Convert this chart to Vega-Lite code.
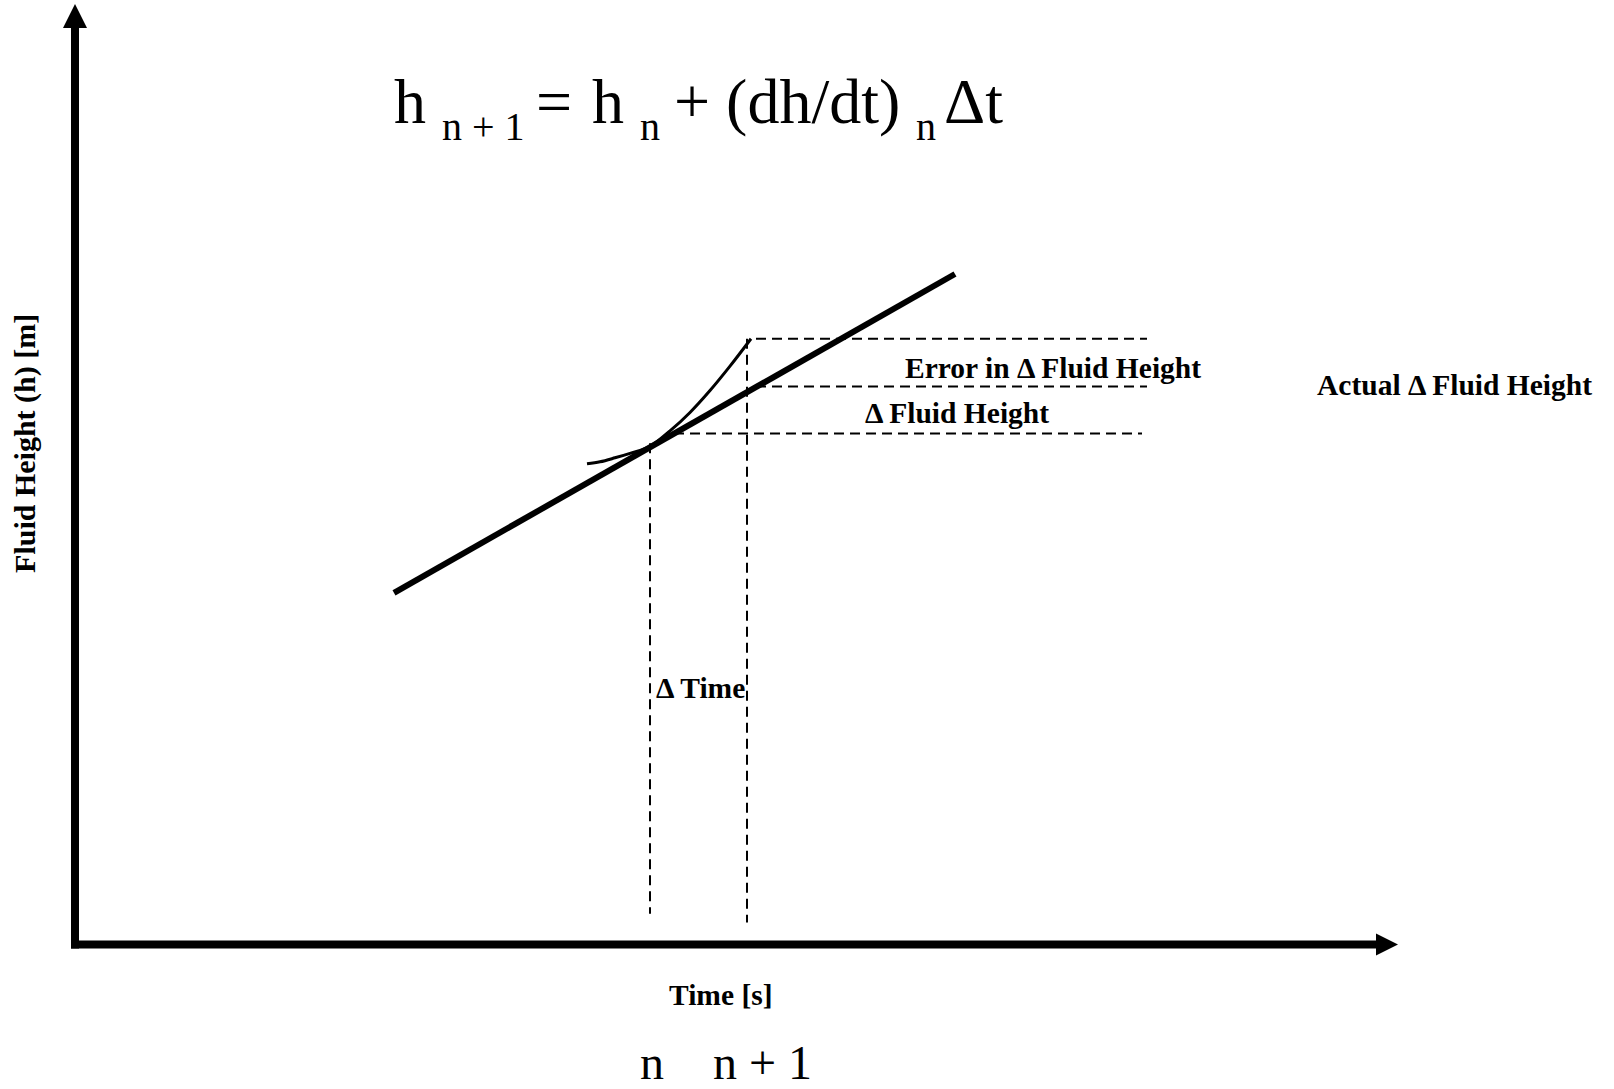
{
  "$schema": "https://vega.github.io/schema/vega-lite/v6.json",
  "width": 1614,
  "height": 1089,
  "autosize": {"type": "fit", "contains": "padding"},
  "padding": 0,
  "background": "white",
  "config": {"view": {"stroke": null}},
  "encoding": {
    "x": {"field": "x", "type": "quantitative", "scale": {"domain": [0, 1614], "nice": false, "zero": false}, "axis": null},
    "y": {"field": "y", "type": "quantitative", "scale": {"domain": [0, 1089], "nice": false, "zero": false}, "axis": null}
  },
  "layer": [
    {
      "data": {"values": [
        {"part": "y axis", "x": 75, "y": 137, "x2": 75, "y2": 1062},
        {"part": "x axis", "x": 71, "y": 141, "x2": 1377, "y2": 141}
      ]},
      "mark": {"type": "rule", "strokeWidth": 8, "color": "black", "strokeCap": "butt"},
      "encoding": {"x2": {"field": "x2"}, "y2": {"field": "y2"}}
    },
    {
      "data": {"values": [{"part": "y arrow", "x": 75, "y": 1073}]},
      "mark": {"type": "point", "shape": "M0,-1L1,1L-1,1Z", "filled": true, "color": "black", "opacity": 1, "size": 576, "strokeWidth": 0}
    },
    {
      "data": {"values": [{"part": "x arrow", "x": 1387, "y": 141}]},
      "mark": {"type": "point", "shape": "M1,0L-1,-1L-1,1Z", "filled": true, "color": "black", "opacity": 1, "size": 484, "strokeWidth": 0}
    },
    {
      "data": {"values": [
        {"x": 394, "y": 494},
        {"x": 955, "y": 814}
      ]},
      "mark": {"type": "line", "strokeWidth": 6, "color": "black", "strokeCap": "butt"}
    },
    {
      "data": {"values": [
        {"x": 587, "y": 623.5},
        {"x": 600, "y": 625.5},
        {"x": 615, "y": 629.5},
        {"x": 630, "y": 634},
        {"x": 650, "y": 641},
        {"x": 670, "y": 656.5},
        {"x": 690, "y": 675},
        {"x": 710, "y": 697},
        {"x": 730, "y": 721.5},
        {"x": 751, "y": 749}
      ]},
      "mark": {"type": "line", "strokeWidth": 3, "color": "black", "interpolate": "monotone"}
    },
    {
      "data": {"values": [
        {"x": 756, "y": 749, "x2": 1147, "y2": 749},
        {"x": 756, "y": 701, "x2": 1147, "y2": 701},
        {"x": 674, "y": 654, "x2": 1142, "y2": 654},
        {"x": 650, "y": 644, "x2": 650, "y2": 172},
        {"x": 747, "y": 749, "x2": 747, "y2": 163}
      ]},
      "mark": {"type": "rule", "strokeWidth": 2, "color": "black", "strokeDash": [10, 6]},
      "encoding": {"x2": {"field": "x2"}, "y2": {"field": "y2"}}
    },
    {
      "data": {"values": [
        {"label": "h", "x": 394, "y": 966},
        {"label": "=", "x": 536, "y": 966},
        {"label": "h", "x": 592, "y": 966},
        {"label": "+ (dh/dt)", "x": 674, "y": 966},
        {"label": "Δt", "x": 944, "y": 966}
      ]},
      "mark": {"type": "text", "font": "Liberation Serif", "fontSize": 64, "align": "left", "baseline": "alphabetic", "color": "black"},
      "encoding": {"text": {"field": "label"}}
    },
    {
      "data": {"values": [
        {"label": "n + 1", "x": 442, "y": 948},
        {"label": "n", "x": 640, "y": 948},
        {"label": "n", "x": 916, "y": 948}
      ]},
      "mark": {"type": "text", "font": "Liberation Serif", "fontSize": 40, "align": "left", "baseline": "alphabetic", "color": "black"},
      "encoding": {"text": {"field": "label"}}
    },
    {
      "data": {"values": [
        {"label": "Error in Δ Fluid Height", "x": 905, "y": 719},
        {"label": "Δ Fluid Height", "x": 865, "y": 673},
        {"label": "Actual Δ Fluid Height", "x": 1317, "y": 702},
        {"label": "Δ Time", "x": 656, "y": 397},
        {"label": "Time [s]", "x": 669, "y": 89}
      ]},
      "mark": {"type": "text", "font": "Liberation Serif", "fontWeight": "bold", "fontSize": 29.5, "align": "left", "baseline": "middle", "color": "black"},
      "encoding": {"text": {"field": "label"}}
    },
    {
      "data": {"values": [
        {"label": "Fluid Height (h) [m]", "x": 26, "y": 644}
      ]},
      "mark": {"type": "text", "font": "Liberation Serif", "fontWeight": "bold", "fontSize": 30, "align": "center", "baseline": "middle", "angle": 270, "color": "black"},
      "encoding": {"text": {"field": "label"}}
    },
    {
      "data": {"values": [
        {"label": "n", "x": 640, "y": 6},
        {"label": "n + 1", "x": 713, "y": 6}
      ]},
      "mark": {"type": "text", "font": "Liberation Serif", "fontSize": 48, "align": "left", "baseline": "alphabetic", "color": "black"},
      "encoding": {"text": {"field": "label"}}
    }
  ]
}
